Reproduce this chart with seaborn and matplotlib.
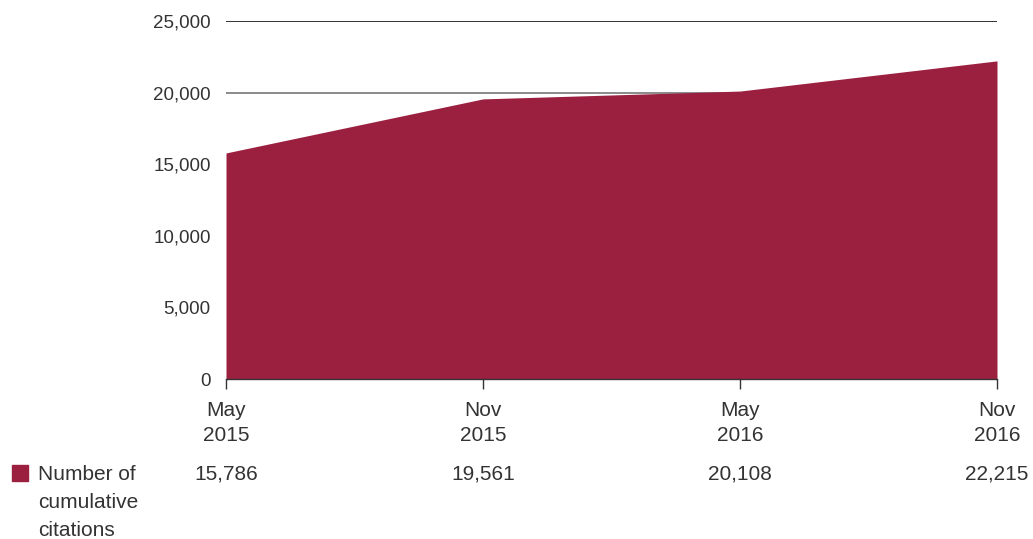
import matplotlib
matplotlib.use("Agg")
import matplotlib.pyplot as plt
import matplotlib.transforms as mtransforms
import seaborn as sns
import pandas as pd

periods = ["May\n2015", "Nov\n2015", "May\n2016", "Nov\n2016"]
citations = [15786, 19561, 20108, 22215]
y_ticks = [0, 5000, 10000, 15000, 20000, 25000]
series_label = "Number of\ncumulative\ncitations"

color = "#9B2040"
text_color = "#333333"

sns.set_theme(style="white")
plt.rcParams["font.family"] = ["Liberation Sans", "DejaVu Sans"]

df = pd.DataFrame({"x": range(len(periods)), "y": citations})

fig = plt.figure(figsize=(10.33, 5.39), dpi=100)
ax = fig.add_axes([226/1033, 1-379/539, (997-226)/1033, (379-21)/539])

# gridlines
for t in [20000, 25000]:
    ax.axhline(t, color="#111111" if t == 25000 else "#777777", lw=1.2, zorder=0)

sns.lineplot(data=df, x="x", y="y", ax=ax, color=color, lw=0, zorder=2)
ax.fill_between(df["x"], 0, df["y"], color=color, lw=0, zorder=2)

ax.set_xlim(0, len(periods)-1)
ax.set_ylim(0, 25000)
ax.set_xticks(range(len(periods)))
ax.set_xticklabels(periods, fontsize=15, color=text_color, linespacing=1.4)
ax.set_yticks(y_ticks)
ax.set_yticklabels([f"{v:,}" for v in y_ticks], fontsize=13.5, color=text_color)
ax.set_xlabel("")
ax.set_ylabel("")
for s in ["top", "right", "left"]:
    ax.spines[s].set_visible(False)
ax.spines["bottom"].set_color("#333333")
ax.spines["bottom"].set_linewidth(1.0)
ax.tick_params(axis="x", direction="out", length=7, width=1, color="#333333", pad=9, bottom=True)
ax.tick_params(axis="y", length=0, pad=11)

trans = mtransforms.blended_transform_factory(ax.transData, ax.transAxes)
for i, v in enumerate(citations):
    ax.text(i, -0.265, f"{v:,}", transform=trans, ha="center", va="center",
            fontsize=15, color=text_color)

# legend square and label
fig.patches.append(plt.Rectangle((12/1033, 1-481/539), 16/1033, 16/539,
                                 transform=fig.transFigure, color=color))
fig.text(38/1033, 1-465/539, series_label, ha="left", va="top", fontsize=15,
         color=text_color, linespacing=1.6)

fig.savefig("out.png", dpi=100)
